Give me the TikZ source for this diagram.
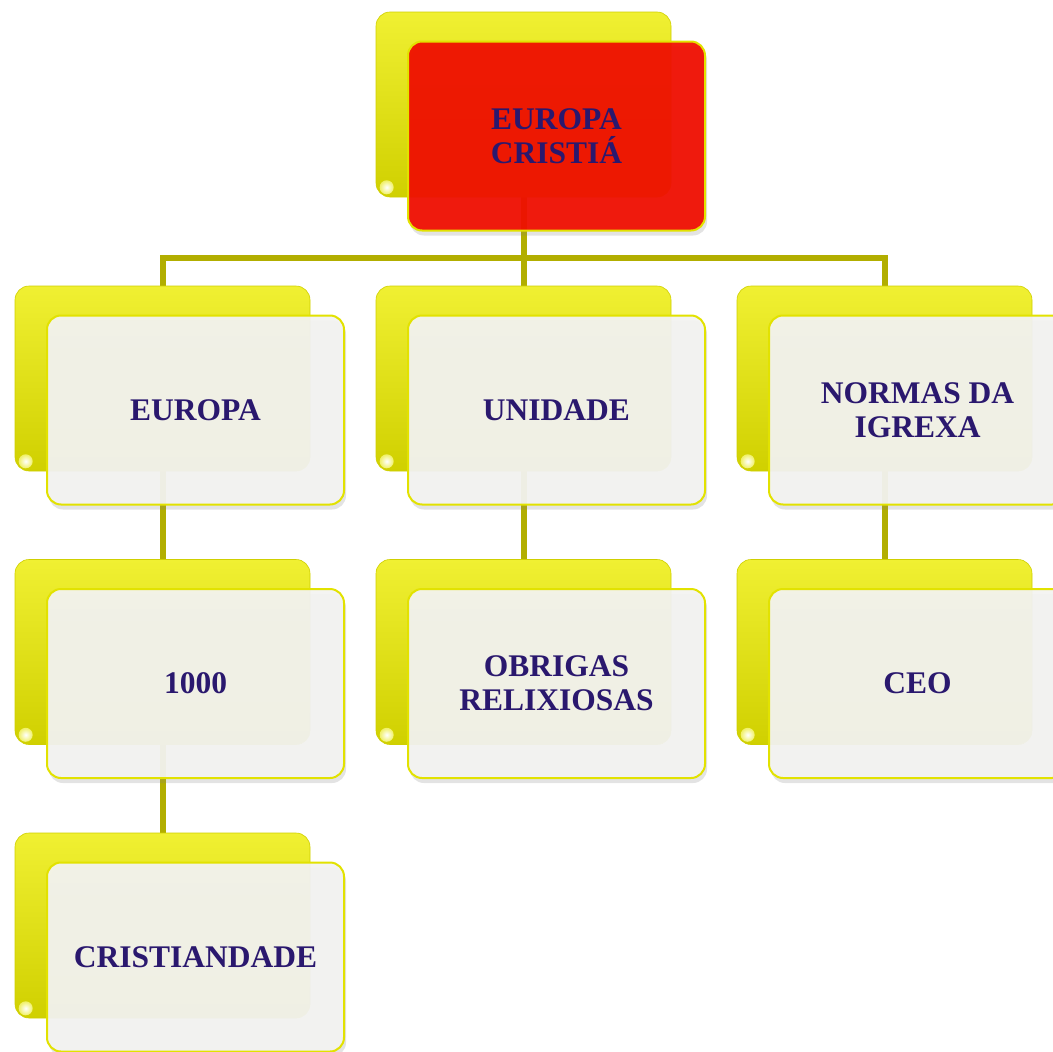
\documentclass[tikz,border=0pt]{standalone}
\usepackage{fontspec}
\setmainfont{Liberation Serif}
\usetikzlibrary{positioning,backgrounds,shadows}

\definecolor{backyellow}{RGB}{230,230,0}
\definecolor{backtop}{RGB}{240,240,50}
\definecolor{backbottom}{RGB}{208,208,0}
\definecolor{frontfill}{RGB}{243,243,241}
\definecolor{frontedge}{RGB}{226,226,0}
\definecolor{topred}{RGB}{240,14,0}
\definecolor{navytext}{RGB}{42,24,110}
\definecolor{linkolive}{RGB}{178,174,0}

\begin{document}
\begin{tikzpicture}[x=1pt,y=-1pt,
  back box/.style={rectangle, rounded corners=14pt, minimum width=295pt, minimum height=185pt,
    draw=backyellow!90!black, line width=0.6pt,
    top color=backtop, middle color=backyellow, bottom color=backbottom},
  front box/.style={rectangle, rounded corners=14pt, minimum width=297pt, minimum height=189pt,
    draw=frontedge, line width=2pt, fill=frontfill, fill opacity=0.94, text opacity=1,
    text=navytext, align=center, font=\bfseries\fontsize{31.5}{34}\selectfont,
    drop shadow={shadow xshift=2pt, shadow yshift=-5pt, opacity=0.22}},
  top box/.style={front box, fill=topred},
  link/.style={draw=linkolive, line width=6pt}]

  \useasboundingbox (0,0) rectangle (1053,1052);
  \clip (0,0) rectangle (1053,1052);

  % Back boxes
  \node[back box] (backTop) at (523.5,104.5) {};
  \node[back box] (backEuropa) at (162.5,378.5) {};
  \node[back box] (backUnidade) at (523.5,378.5) {};
  \node[back box] (backNormas) at (884.5,378.5) {};
  \node[back box] (backMil) at (162.5,652) {};
  \node[back box] (backObrigas) at (523.5,652) {};
  \node[back box] (backCeo) at (884.5,652) {};
  \node[back box] (backCrist) at (162.5,925.5) {};

  % Gloss spots
  \foreach \b in {backTop,backEuropa,backUnidade,backNormas,backMil,backObrigas,backCeo,backCrist}
    \shade[inner color=white, outer color=backyellow!60!white] ([shift={(11,-10)}]\b.south west) circle (7);

  % Front boxes
  \node[top box] (top) at (556.5,136) {EUROPA\\CRISTIÁ};
  \node[front box] (europa) at (195.5,410) {EUROPA};
  \node[front box] (unidade) at (556.5,410) {UNIDADE};
  \node[front box] (normas) at (917.5,410) {NORMAS DA\\IGREXA};
  \node[front box] (mil) at (195.5,683.5) {1000};
  \node[front box] (obrigas) at (556.5,683.5) {OBRIGAS\\RELIXIOSAS};
  \node[front box] (ceo) at (917.5,683.5) {CEO};
  \node[front box] (cristiandade) at (195.5,957) {CRISTIANDADE};

  % Connectors
  \begin{scope}[on background layer]
    \coordinate (bus) at (523.5,258);
    \draw[link] (backTop.south) -- (bus);
    \draw[link] (bus) -| (backEuropa.north);
    \draw[link] (bus) -| (backNormas.north);
    \draw[link] (bus) -- (backUnidade.north);
    \draw[link] (backEuropa.south) -- (backMil.north);
    \draw[link] (backMil.south) -- (backCrist.north);
    \draw[link] (backUnidade.south) -- (backObrigas.north);
    \draw[link] (backNormas.south) -- (backCeo.north);
  \end{scope}
\end{tikzpicture}
\end{document}
